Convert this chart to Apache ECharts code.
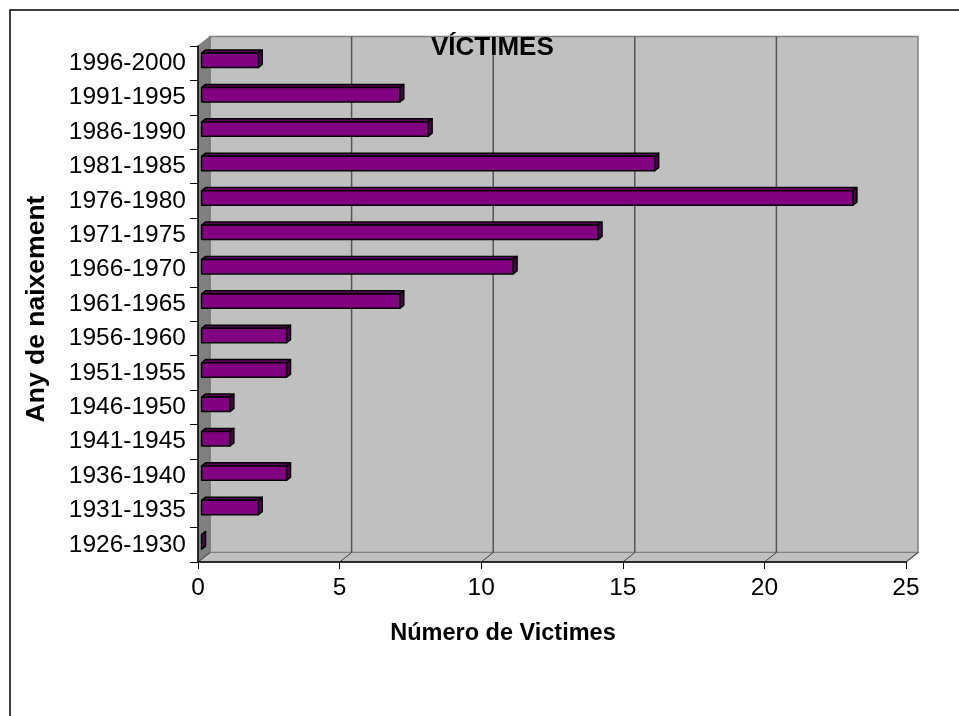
<!DOCTYPE html>
<html>
<head>
<meta charset="utf-8">
<script src="https://cdn.jsdelivr.net/npm/echarts@6/dist/echarts.min.js"></script>
<style>
html,body{margin:0;padding:0;background:#fff;}
#chart{width:959px;height:716px;}
</style>
</head>
<body>
<div id="chart"></div>
<script>
const categories = ['1926-1930','1931-1935','1936-1940','1941-1945','1946-1950','1951-1955','1956-1960','1961-1965','1966-1970','1971-1975','1976-1980','1981-1985','1986-1990','1991-1995','1996-2000'];
const victims = [0,2,3,1,1,3,3,7,11,14,23,16,8,7,2];
const xTicks = [0,5,10,15,20,25];

const FONT = '"Liberation Sans", Arial, sans-serif';
const DX = 12, DY = -9.5;          // depth of the 3D walls
const F0 = 0.3, F1 = 0.63;         // bar depth range (fraction of wall depth)
const BAR_H = 0.42;                // bar thickness (fraction of band)

const chart = echarts.init(document.getElementById('chart'));

function renderWalls(params, api) {
  const n = categories.length;
  const band = api.size([0, 1])[1];
  const xMin = xTicks[0], xMax = xTicks[xTicks.length - 1];
  const xL = api.coord([xMin, 0])[0];
  const xR = api.coord([xMax, 0])[0];
  const yB = api.coord([0, 0])[1] + band / 2;
  const yT = api.coord([0, n - 1])[1] - band / 2;
  const children = [];
  children.push({type:'rect', shape:{x:xL+DX, y:yT+DY, width:xR-xL, height:yB-yT},
    style:{fill:'#c0c0c0', stroke:'#808080', lineWidth:1.5}});
  children.push({type:'polygon', shape:{points:[[xL,yT],[xL+DX,yT+DY],[xL+DX,yB+DY],[xL,yB]]},
    style:{fill:'#808080', stroke:'#707070', lineWidth:1}});
  children.push({type:'polygon', shape:{points:[[xL,yB],[xR,yB],[xR+DX,yB+DY],[xL+DX,yB+DY]]},
    style:{fill:'#c0c0c0', stroke:'#808080', lineWidth:1.2}});
  xTicks.forEach(function(t, k){
    const x = api.coord([t, 0])[0];
    if (k > 0 && k < xTicks.length - 1) {
      children.push({type:'line', shape:{x1:x+DX, y1:yT+DY, x2:x+DX, y2:yB+DY},
        style:{stroke:'#555555', lineWidth:1.5}});
    }
    children.push({type:'line', shape:{x1:x, y1:yB, x2:x+DX, y2:yB+DY},
      style:{stroke:'#404040', lineWidth:1}});
  });
  return {type:'group', children:children};
}

function renderBar(params, api) {
  const v = api.value(0), i = api.value(1);
  const band = api.size([0, 1])[1];
  const h = band * BAR_H;
  const p0 = api.coord([0, i]);
  const p1 = api.coord([v, i]);
  const ox = DX * F0, oy = DY * F0;
  const ddx = DX * (F1 - F0), ddy = DY * (F1 - F0);
  const x0 = p0[0] + ox, x1 = p1[0] + ox;
  const yTop = p0[1] + oy - h / 2, yBot = p0[1] + oy + h / 2;
  const stroke = {stroke:'#000', lineWidth:1.5, lineJoin:'round'};
  return {type:'group', children:[
    {type:'polygon', shape:{points:[[x0,yTop],[x1,yTop],[x1+ddx,yTop+ddy],[x0+ddx,yTop+ddy]]},
      style:Object.assign({fill:'#5a005a'}, stroke)},
    {type:'polygon', shape:{points:[[x1,yTop],[x1+ddx,yTop+ddy],[x1+ddx,yBot+ddy],[x1,yBot]]},
      style:Object.assign({fill:'#4a004a'}, stroke)},
    {type:'rect', shape:{x:x0, y:yTop, width:Math.max(0, x1-x0), height:h},
      style:Object.assign({fill:'#800080'}, stroke), invisible: v === 0}
  ]};
}

chart.setOption({
  animation: false,
  backgroundColor: '#ffffff',
  textStyle: {fontFamily: FONT},
  title: {
    text: 'VÍCTIMES', left: 426, top: 30,
    textStyle: {fontFamily: FONT, fontSize: 26, fontWeight: 'bold', color: '#000'}
  },
  graphic: [{type:'rect', shape:{x:10, y:10, width:1200, height:1200},
    style:{fill:'none', stroke:'#000', lineWidth:1.5}, z:100, silent:true}],
  grid: {left: 198, right: 53, top: 46, bottom: 154, containLabel: false},
  xAxis: {
    type: 'value', min: xTicks[0], max: xTicks[xTicks.length-1], interval: 5, z: 10,
    name: 'Número de Victimes', nameLocation: 'middle', nameGap: 60,
    nameTextStyle: {fontFamily: FONT, fontSize: 23.5, fontWeight: 'bold', color: '#000', padding: [0, 98, 0, 0]},
    axisLine: {show: true, lineStyle: {color: '#000', width: 1.5}},
    axisTick: {show: true, length: 7, lineStyle: {color: '#000', width: 1}},
    axisLabel: {fontFamily: FONT, fontSize: 24.5, color: '#000', margin: 14},
    splitLine: {show: false}
  },
  yAxis: {
    type: 'category', data: categories, z: 10,
    name: 'Any de naixement', nameLocation: 'middle', nameGap: 148, nameRotate: 90,
    nameTextStyle: {fontFamily: FONT, fontSize: 26.5, fontWeight: 'bold', color: '#000', padding: [0, 10, 0, 0]},
    axisLine: {show: true, lineStyle: {color: '#000', width: 1.5}},
    axisTick: {show: true, length: 8, lineStyle: {color: '#000', width: 1}},
    axisLabel: {fontFamily: FONT, fontSize: 24.5, color: '#000', margin: 12},
    splitLine: {show: false}
  },
  series: [
    {type: 'custom', z: 1, silent: true, clip: false, renderItem: renderWalls,
     data: [[0, 0]], encode: {x: 0, y: 1}},
    {type: 'custom', z: 2, silent: true, clip: false, renderItem: renderBar,
     data: victims.map(function(v, i){ return [v, i]; }), encode: {x: 0, y: 1}}
  ]
});
</script>
</body>
</html>
